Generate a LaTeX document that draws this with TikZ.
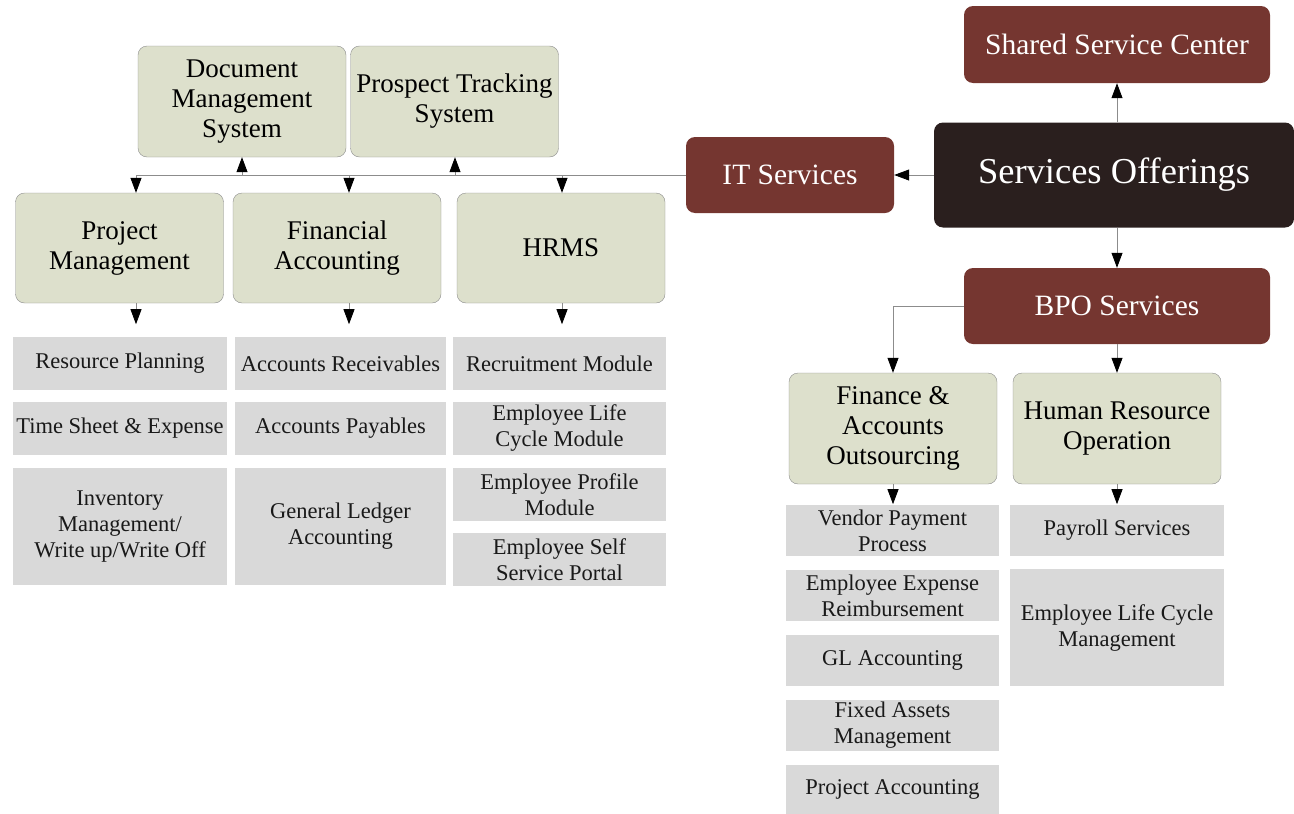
\documentclass[tikz,border=0pt]{standalone}
\usepackage{fontspec}
\setmainfont{Liberation Serif}
\usetikzlibrary{arrows.meta}
\definecolor{svcred}{HTML}{753630}
\definecolor{svcdark}{HTML}{2A1F1E}
\definecolor{modgreen}{HTML}{DDE0CC}
\definecolor{itemgray}{HTML}{D9D9D9}
\definecolor{linegray}{HTML}{8C8C8C}
\begin{document}
\begin{tikzpicture}
            [x=1pt, y=-1pt,
            service/.style={rectangle, rounded corners=9pt, fill=svcred, text=white, inner sep=0pt, font=\fontsize{29.5}{34}\selectfont, align=center},
            module/.style={rectangle, rounded corners=9pt, fill=modgreen, draw=linegray, text=black, inner sep=0pt, font=\fontsize{27}{30}\selectfont, align=center, minimum width=208pt, minimum height=110pt},
            item/.style={rectangle, fill=itemgray, text=black!90, inner sep=0pt, font=\fontsize{22.5}{26}\selectfont, align=center},
            line/.style={linegray, thick},
            arr/.style={linegray, thick, -{Triangle[width=11pt, length=15pt, color=black]}}]

            \useasboundingbox (0,0) rectangle (1294,814);

            % Services and main offerings
            \node[service, minimum width=306pt, minimum height=77pt] (ssc) at (1117,44.5) {Shared Service Center};
            \node[service, fill=svcdark, font=\fontsize{36.5}{42}\selectfont, minimum width=360pt, minimum height=105pt] (so) at (1114,175) {Services Offerings};
            \node[service, minimum width=208pt, minimum height=76pt] (its) at (790,175) {IT Services};
            \node[service, minimum width=306pt, minimum height=76pt] (bpo) at (1117,306) {BPO Services};

            % IT modules
            \node[module, minimum height=111pt] (dms) at (242,101.5) {Document\\Management\\System};
            \node[module, minimum height=111pt] (pts) at (454.5,101.5) {Prospect Tracking\\System};
            \node[module] (pm) at (119.5,248) {Project\\Management};
            \node[module] (fa) at (337,248) {Financial\\Accounting};
            \node[module] (hrms) at (561,248) {HRMS};

            % BPO modules
            \node[module, minimum height=111pt] (fao) at (893,428.5) {Finance \&\\Accounts\\Outsourcing};
            \node[module, minimum height=111pt] (hro) at (1117,428.5) {Human Resource\\Operation};

            % Project Management items
            \node[item, minimum width=214pt, minimum height=53pt] (rp) at (120,363.5) {Resource Planning};
            \node[item, minimum width=214pt, minimum height=53pt] (ts) at (120,428.5) {Time Sheet \& Expense};
            \node[item, minimum width=214pt, minimum height=117pt] (inv) at (120,526.5) {Inventory\\Management/\\Write up/Write Off};

            % Financial Accounting items
            \node[item, minimum width=211pt, minimum height=53pt] (ar) at (340.5,363.5) {Accounts Receivables};
            \node[item, minimum width=211pt, minimum height=53pt] (ap) at (340.5,428.5) {Accounts Payables};
            \node[item, minimum width=211pt, minimum height=117pt] (gla) at (340.5,526.5) {General Ledger\\Accounting};

            % HRMS items
            \node[item, minimum width=213pt, minimum height=53pt] (rm) at (559.5,363.5) {Recruitment Module};
            \node[item, minimum width=213pt, minimum height=53pt] (elc) at (559.5,428.5) {Employee Life\\Cycle Module};
            \node[item, minimum width=213pt, minimum height=53pt] (epm) at (559.5,494.5) {Employee Profile\\Module};
            \node[item, minimum width=213pt, minimum height=53pt] (ess) at (559.5,559.5) {Employee Self\\Service Portal};

            % Finance & Accounts items
            \node[item, minimum width=213pt, minimum height=51pt] (vpp) at (892.5,530.5) {Vendor Payment\\Process};
            \node[item, minimum width=213pt, minimum height=51pt] (eer) at (892.5,595.5) {Employee Expense\\Reimbursement};
            \node[item, minimum width=213pt, minimum height=51pt] (gl) at (892.5,660.5) {GL Accounting};
            \node[item, minimum width=213pt, minimum height=51pt] (fam) at (892.5,725.5) {Fixed Assets\\Management};
            \node[item, minimum width=213pt, minimum height=50pt] (pa) at (892.5,789.5) {Project Accounting};

            % Human Resource items
            \node[item, minimum width=214pt, minimum height=51pt] (ps) at (1117,530.5) {Payroll Services};
            \node[item, minimum width=214pt, minimum height=117pt] (elm) at (1117,627.5) {Employee Life Cycle\\Management};

            % Bus points
            \coordinate (b1) at (136,175);
            \coordinate (b2) at (349,175);
            \coordinate (b3) at (562,175);
            \coordinate (u1) at (242,175);
            \coordinate (u2) at (455,175);
            \coordinate (c1) at (893,306);

            % Connectors
            \draw[arr] (so.north -| ssc) -- (ssc.south);
            \draw[arr] (so.west) -- (its.east);
            \draw[arr] (so.south -| bpo) -- (bpo.north);

            \draw[line] (its.west) -- (b1);
            \draw[arr] (b1) -- (b1 |- pm.north);
            \draw[arr] (b2) -- (b2 |- fa.north);
            \draw[arr] (b3) -- (b3 |- hrms.north);
            \draw[arr] (u1) -- (u1 |- dms.south);
            \draw[arr] (u2) -- (u2 |- pts.south);

            \draw[arr] (b1 |- pm.south) -- ++(0,21);
            \draw[arr] (b2 |- fa.south) -- ++(0,21);
            \draw[arr] (b3 |- hrms.south) -- ++(0,21);

            \draw[arr] (bpo.west) -- (c1) -- (fao.north);
            \draw[arr] (bpo.south) -- (hro.north);
            \draw[arr] (fao.south) -- ++(0,20);
            \draw[arr] (hro.south) -- ++(0,20);

        \end{tikzpicture}
\end{document}
